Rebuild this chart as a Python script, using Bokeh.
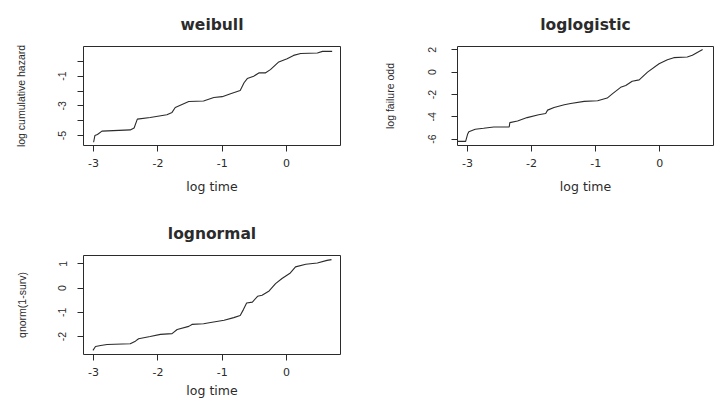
from bokeh.plotting import figure
from bokeh.models import Range1d, FixedTicker
from bokeh.layouts import column, row
from bokeh.embed import file_html
from bokeh.resources import INLINE

# ---- data ----
weibull_x = [-3.00, -2.98, -2.94, -2.87, -2.43, -2.37, -2.32, -2.12, -1.86, -1.78, -1.73, -1.52, -1.29,
             -1.13, -1.00, -0.87, -0.72, -0.66, -0.61, -0.51, -0.43, -0.33, -0.25, -0.12, 0.01, 0.11,
             0.22, 0.48, 0.56, 0.71]
weibull_y = [-5.45, -5.00, -4.93, -4.70, -4.62, -4.49, -3.89, -3.78, -3.60, -3.44, -3.11, -2.71, -2.67,
             -2.44, -2.38, -2.18, -1.96, -1.44, -1.16, -1.00, -0.78, -0.78, -0.56, -0.04, 0.18, 0.40,
             0.53, 0.56, 0.67, 0.67]

loglogistic_x = [-3.15, -3.03, -3.00, -2.98, -2.88, -2.75, -2.59, -2.35, -2.34, -2.22, -2.07, -1.89, -1.78,
                 -1.75, -1.65, -1.49, -1.39, -1.18, -0.97, -0.82, -0.74, -0.61, -0.53, -0.43, -0.32,
                 -0.19, -0.01, 0.12, 0.22, 0.43, 0.51, 0.67]
loglogistic_y = [-6.20, -6.20, -5.57, -5.33, -5.12, -5.03, -4.91, -4.91, -4.52, -4.37, -4.07, -3.82, -3.71,
                 -3.40, -3.16, -2.92, -2.80, -2.62, -2.56, -2.32, -1.95, -1.36, -1.20, -0.81, -0.69,
                 0.00, 0.76, 1.12, 1.30, 1.36, 1.51, 2.03]

lognormal_x = [-3.01, -2.97, -2.89, -2.79, -2.43, -2.35, -2.30, -2.12, -1.96, -1.78, -1.70, -1.52, -1.47,
               -1.29, -1.18, -0.97, -0.82, -0.72, -0.67, -0.62, -0.53, -0.45, -0.38, -0.27, -0.17,
               -0.07, 0.06, 0.14, 0.30, 0.48, 0.63, 0.70]
lognormal_y = [-2.57, -2.41, -2.37, -2.33, -2.30, -2.19, -2.09, -2.00, -1.91, -1.88, -1.71, -1.58, -1.50,
               -1.47, -1.42, -1.33, -1.22, -1.13, -0.89, -0.62, -0.58, -0.34, -0.30, -0.12, 0.18,
               0.39, 0.62, 0.87, 0.98, 1.03, 1.14, 1.17]

x_ticks = [-3, -2, -1, 0]
weibull_ticks = [-5, -4, -3, -2, -1, 0]
weibull_tick_labels = ["-5", "", "-3", "", "-1", ""]
loglogistic_ticks = [-6, -4, -2, 0, 2]
loglogistic_tick_labels = ["-6", "-4", "-2", "0", "2"]
lognormal_ticks = [-2, -1, 0, 1]
lognormal_tick_labels = ["-2", "-1", "0", "1"]

INK = "#2b2b2b"
X_RANGE = (-3.157, 0.84)


def panel(title, xs, ys, yr, yticks, ylabels, ylab, w, h, bl, br, bt, bb,
          xlab_standoff=9, ylab_standoff=29, ytick_standoff=11):
    p = figure(width=w, height=h, x_range=Range1d(*X_RANGE), y_range=Range1d(*yr),
               output_backend="svg", toolbar_location=None,
               min_border_left=bl, min_border_right=br, min_border_top=bt, min_border_bottom=bb)
    p.title.text = title
    p.title.align = "center"
    p.title.text_font = "DejaVu Sans"
    p.title.text_font_size = "15.5px"
    p.title.text_font_style = "bold"
    p.title.text_color = INK
    p.title.standoff = 26
    p.grid.visible = False
    p.outline_line_color = INK
    p.outline_line_width = 1
    p.background_fill_color = "white"
    p.border_fill_color = "white"

    p.line(xs, ys, line_color=INK, line_width=1.1)

    xa = p.xaxis[0]
    xa.ticker = FixedTicker(ticks=x_ticks)
    xa.major_label_overrides = {t: str(t) for t in x_ticks}
    xa.axis_label = "log time"
    xa.axis_label_text_font = "DejaVu Sans"
    xa.axis_label_text_font_size = "12.5px"
    xa.axis_label_text_font_style = "normal"
    xa.axis_label_text_color = INK
    xa.axis_label_standoff = xlab_standoff
    xa.major_label_text_font = "DejaVu Sans"
    xa.major_label_text_font_size = "11px"
    xa.major_label_text_color = INK
    xa.major_label_standoff = 7

    ya = p.yaxis[0]
    ya.ticker = FixedTicker(ticks=yticks)
    ya.major_label_overrides = {t: l for t, l in zip(yticks, ylabels)}
    ya.major_label_orientation = "vertical"
    ya.axis_label = ylab
    ya.axis_label_text_font = "Liberation Sans"
    ya.axis_label_text_font_size = "10.5px"
    ya.axis_label_text_font_style = "normal"
    ya.axis_label_text_color = INK
    ya.axis_label_standoff = ylab_standoff
    ya.major_label_text_font = "Liberation Sans"
    ya.major_label_text_font_size = "10.5px"
    ya.major_label_text_color = INK
    ya.major_label_standoff = ytick_standoff

    for ax in (xa, ya):
        ax.axis_line_color = None
        ax.major_tick_line_color = INK
        ax.major_tick_out = 6
        ax.major_tick_in = 0
        ax.minor_tick_line_color = None
    return p


p1 = panel("weibull", weibull_x, weibull_y, (-5.67, 1.0), weibull_ticks, weibull_tick_labels,
           "log cumulative hazard", 361, 200, 83, 21, 45, 55, ylab_standoff=29)
p2 = panel("loglogistic", loglogistic_x, loglogistic_y, (-6.57, 2.30), loglogistic_ticks,
           loglogistic_tick_labels, "log failure odd", 362, 200, 96, 10, 46, 55,
           ylab_standoff=30, ytick_standoff=15)
p3 = panel("lognormal", lognormal_x, lognormal_y, (-2.74, 1.34), lognormal_ticks, lognormal_tick_labels,
           "qnorm(1-surv)", 361, 201, 83, 21, 55, 47, xlab_standoff=4, ylab_standoff=28)

layout = column(row(p1, p2), row(p3))
open("out.html", "w").write(file_html(layout, INLINE))
